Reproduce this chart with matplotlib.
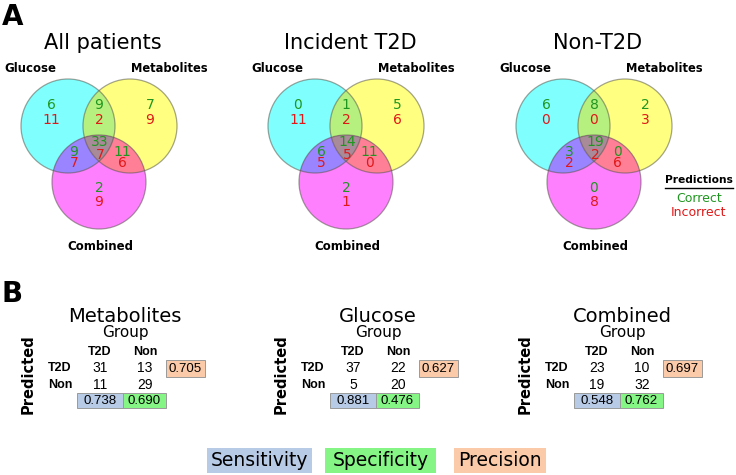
import numpy as np
import matplotlib
matplotlib.use("Agg")
import matplotlib.pyplot as plt
from matplotlib.patches import Circle, Rectangle
from matplotlib.path import Path

# --- data ---
venn_titles = ["All patients", "Incident T2D", "Non-T2D"]
set_names = ["Glucose", "Metabolites", "Combined"]
# region order: G only, M only, G&M, C only, G&C, M&C, all three
correct = [[6, 7, 9, 2, 9, 11, 33],
           [0, 5, 1, 2, 6, 11, 14],
           [6, 2, 8, 0, 3, 0, 19]]
incorrect = [[11, 9, 2, 9, 7, 6, 7],
             [11, 6, 2, 1, 5, 0, 5],
             [0, 3, 0, 8, 2, 6, 2]]

models = ["Metabolites", "Glucose", "Combined"]
groups = ["T2D", "Non"]
conf = [[[31, 13], [11, 29]],
        [[37, 22], [5, 20]],
        [[23, 10], [19, 32]]]
sensitivity = [0.738, 0.881, 0.548]
specificity = [0.690, 0.476, 0.762]
precision = [0.705, 0.627, 0.697]

metric_names = ["Sensitivity", "Specificity", "Precision"]
metric_colors = ["#b7cae6", "#85f585", "#fbcaa8"]

GREEN = "#1f961f"
RED = "#e01818"

fig = plt.figure(figsize=(7.36, 4.75), dpi=100)
ax = fig.add_axes([0, 0, 1, 1])
ax.set_xlim(0, 736)
ax.set_ylim(475, 0)
ax.axis("off")


def lens_path(c1, c2, r):
    dx, dy = c2[0] - c1[0], c2[1] - c1[1]
    d = np.hypot(dx, dy)
    phi = np.arctan2(dy, dx)
    a = np.arccos(d / (2 * r))
    t1 = np.linspace(phi - a, phi + a, 80)
    t2 = np.linspace(phi + np.pi - a, phi + np.pi + a, 80)
    pts = np.vstack([np.column_stack([c1[0] + r * np.cos(t1), c1[1] + r * np.sin(t1)]),
                     np.column_stack([c2[0] + r * np.cos(t2), c2[1] + r * np.sin(t2)])])
    return Path(np.vstack([pts, pts[:1]]), closed=True)


# panel letters
ax.text(2, 17, "A", fontsize=20, fontweight="bold", va="center", ha="left")
ax.text(2, 294, "B", fontsize=20, fontweight="bold", va="center", ha="left")

# --- Venn diagrams ---
r = 47
gx_list = [68, 315, 563]
gy = 126
text_off = [(-17, -21, -6), (82, -21, -6), (31, -21, -6), (31, 62, 76),
            (6, 26, 37), (54, 26, 37), (32, 16.5, 29)]
for p, gx in enumerate(gx_list):
    cG = (gx, gy)
    cM = (gx + 62, gy)
    cC = (gx + 31, gy + 56)
    for c, col in zip([cG, cM, cC], ["#80ffff", "#ffff80", "#ff80ff"]):
        ax.add_patch(Circle(c, r, facecolor=col, edgecolor="none"))
    for c, clip, col in [(cM, cG, "#b6f07e"), (cC, cG, "#9a84ff"), (cC, cM, "#ff7f96")]:
        pt = Circle(c, r, facecolor=col, edgecolor="none")
        ax.add_patch(pt)
        pt.set_clip_path(Path.circle(clip, r), transform=ax.transData)
    pt = Circle(cC, r, facecolor="#a88a98", edgecolor="none")
    ax.add_patch(pt)
    pt.set_clip_path(lens_path(cG, cM, r), transform=ax.transData)
    for c in [cG, cM, cC]:
        ax.add_patch(Circle(c, r, fill=False, edgecolor=(0.35, 0.35, 0.3, 0.55), lw=0.9))

    for k, (dx, dyg, dyr) in enumerate(text_off):
        ax.text(gx + dx, gy + dyg, str(correct[p][k]), color=GREEN, fontsize=10,
                ha="center", va="center")
        ax.text(gx + dx, gy + dyr, str(incorrect[p][k]), color=RED, fontsize=10,
                ha="center", va="center")

    ax.text(gx + 35, 43, venn_titles[p], fontsize=15, ha="center", va="center")
    ax.text(gx - 38, 68, set_names[0], fontsize=8.5, fontweight="bold", ha="center", va="center")
    ax.text(gx + 101, 68, set_names[1], fontsize=8.3, fontweight="bold", ha="center", va="center")
    ax.text(gx + 32, 247, set_names[2], fontsize=8.5, fontweight="bold", ha="center", va="center")

# predictions key
ax.text(699, 180, "Predictions", fontsize=7.7, fontweight="bold", ha="center", va="center")
ax.plot([665, 733], [188, 188], color="black", lw=1)
ax.text(699, 198, "Correct", fontsize=9, color=GREEN, ha="center", va="center")
ax.text(699, 212, "Incorrect", fontsize=9, color=RED, ha="center", va="center")

# --- confusion tables ---
tab_font = ["Liberation Sans", "DejaVu Sans"]
for m, off in enumerate([0, 253, 497]):
    ax.text(125 + off, 317, models[m], fontsize=14, ha="center", va="center")
    ax.text(125 + off, 333, "Group", fontsize=11, ha="center", va="center")
    ax.text(28 + off, 374, "Predicted", fontsize=10.5, fontweight="bold", rotation=90,
            ha="center", va="center")
    cols = [100 + off, 145 + off]
    rows = [368, 385]
    for j in range(2):
        ax.text(cols[j], 352, groups[j], fontsize=9, fontweight="bold", family=tab_font,
                ha="center", va="center")
        ax.text(60 + off, rows[j], groups[j], fontsize=9, fontweight="bold", family=tab_font,
                ha="center", va="center")
        for i in range(2):
            ax.text(cols[i], rows[j], str(conf[m][j][i]), fontsize=10, family=tab_font,
                    ha="center", va="center")
    boxes = [(166 + off, 360, 39, 17, metric_colors[2], precision[m]),
             (77 + off, 393, 46, 15, metric_colors[0], sensitivity[m]),
             (123 + off, 393, 43, 15, metric_colors[1], specificity[m])]
    for x0, y0, w, h, col, val in boxes:
        ax.add_patch(Rectangle((x0, y0), w, h, facecolor=col, edgecolor="#9a9a9a", lw=0.7))
        ax.text(x0 + w / 2, y0 + h / 2 + 0.5, "%.3f" % val, fontsize=9.5, family=tab_font,
                ha="center", va="center")

# metric legend
for name, col, (x0, w) in zip(metric_names, metric_colors, [(207, 105), (325, 111), (454, 92)]):
    ax.add_patch(Rectangle((x0, 448), w, 25, facecolor=col, edgecolor="none"))
    ax.text(x0 + w / 2, 461, name, fontsize=13.5, ha="center", va="center")

fig.savefig("out.png", dpi=100)
